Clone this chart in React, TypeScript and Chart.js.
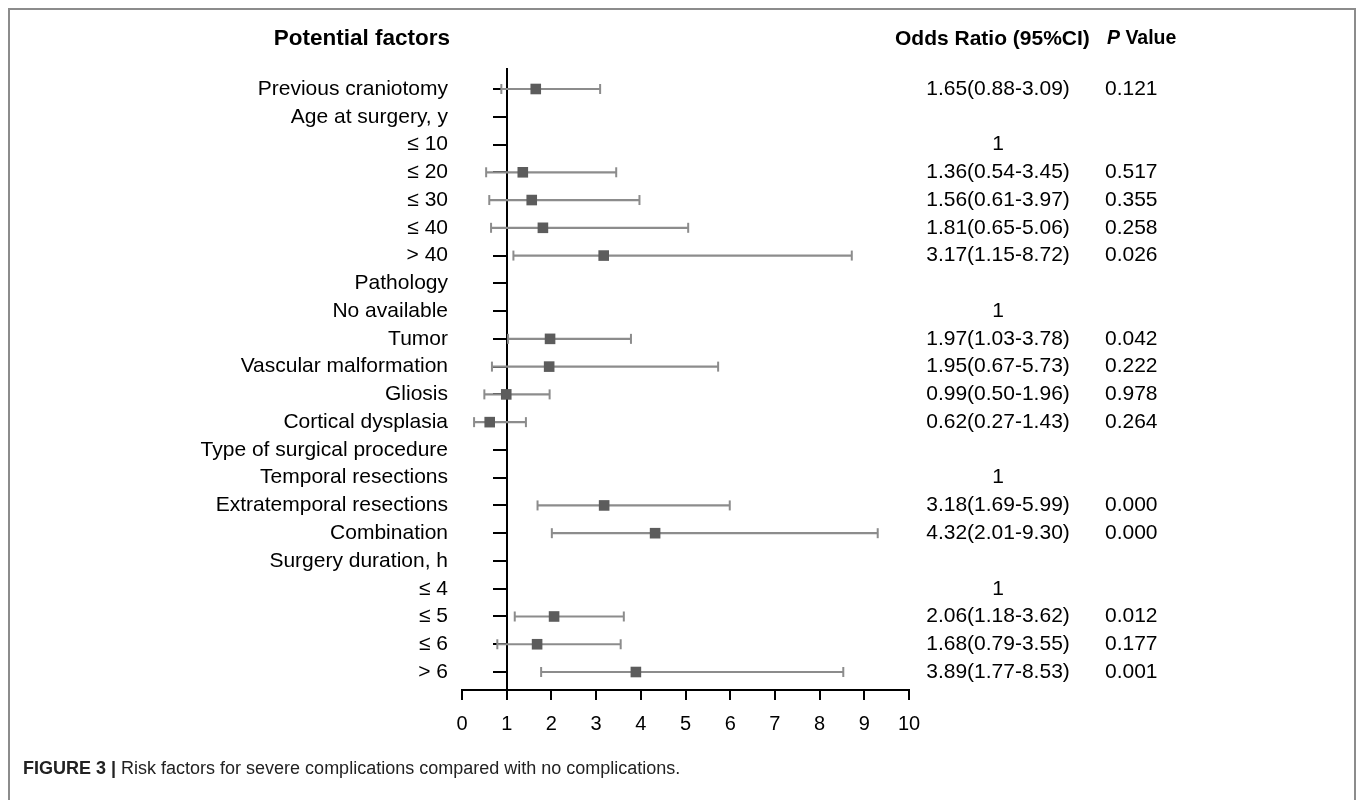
import React, { useEffect, useRef } from "react";
import { Chart, registerables } from "chart.js";

Chart.register(...registerables);

const FONT = '"Liberation Sans", Arial, Helvetica, sans-serif';

const rowLabels = [
  "Previous craniotomy",
  "Age at surgery, y",
  "≤ 10",
  "≤ 20",
  "≤ 30",
  "≤ 40",
  "> 40",
  "Pathology",
  "No available",
  "Tumor",
  "Vascular malformation",
  "Gliosis",
  "Cortical dysplasia",
  "Type of surgical procedure",
  "Temporal resections",
  "Extratemporal resections",
  "Combination",
  "Surgery duration, h",
  "≤ 4",
  "≤ 5",
  "≤ 6",
  "> 6",
];

const isReference = [
  false, false, true, false, false, false, false,
  false, true, false, false, false, false,
  false, true, false, false,
  false, true, false, false, false,
];

const oddsRatio = [
  1.65, null, null, 1.36, 1.56, 1.81, 3.17,
  null, null, 1.97, 1.95, 0.99, 0.62,
  null, null, 3.18, 4.32,
  null, null, 2.06, 1.68, 3.89,
];

const ciLower = [
  0.88, null, null, 0.54, 0.61, 0.65, 1.15,
  null, null, 1.03, 0.67, 0.5, 0.27,
  null, null, 1.69, 2.01,
  null, null, 1.18, 0.79, 1.77,
];

const ciUpper = [
  3.09, null, null, 3.45, 3.97, 5.06, 8.72,
  null, null, 3.78, 5.73, 1.96, 1.43,
  null, null, 5.99, 9.3,
  null, null, 3.62, 3.55, 8.53,
];

const pValues = [
  "0.121", "", "", "0.517", "0.355", "0.258", "0.026",
  "", "", "0.042", "0.222", "0.978", "0.264",
  "", "", "0.000", "0.000",
  "", "", "0.012", "0.177", "0.001",
];

const xMin = 0;
const xMax = 10;

function orLabel(i: number): string {
  if (isReference[i]) return "1";
  const o = oddsRatio[i];
  const lo = ciLower[i];
  const hi = ciUpper[i];
  if (o == null || lo == null || hi == null) return "";
  return `${o.toFixed(2)}(${lo.toFixed(2)}-${hi.toFixed(2)})`;
}

const textColumnsPlugin = {
  id: "textColumns",
  afterDraw(chart: any) {
    const ctx = chart.ctx;
    const y = chart.scales.y;
    ctx.save();
    ctx.fillStyle = "#000";
    ctx.textBaseline = "middle";
    // headers
    ctx.font = `bold 22.5px ${FONT}`;
    ctx.textAlign = "right";
    ctx.fillText("Potential factors", 450, 39);
    ctx.textAlign = "left";
    ctx.font = `bold 21px ${FONT}`;
    ctx.fillText("Odds Ratio (95%CI)", 895, 39);
    ctx.font = `italic bold 19.5px ${FONT}`;
    ctx.fillText("P", 1107, 39);
    const pw = ctx.measureText("P ").width;
    ctx.font = `bold 19.5px ${FONT}`;
    ctx.fillText("Value", 1107 + pw, 39);
    // rows
    ctx.font = `21px ${FONT}`;
    rowLabels.forEach((label, i) => {
      const py = y.getPixelForValue(i);
      ctx.textAlign = "right";
      ctx.fillText(label, 448, py);
      ctx.textAlign = "center";
      ctx.fillText(orLabel(i), 998, py);
      ctx.textAlign = "left";
      ctx.fillText(pValues[i], 1105, py);
    });
    ctx.restore();
  },
};

export default function App() {
  const canvasRef = useRef<HTMLCanvasElement | null>(null);

  useEffect(() => {
    const canvas = canvasRef.current;
    if (!canvas) return;

    const ciDatasets = rowLabels
      .map((_, i) => i)
      .filter((i) => ciLower[i] != null && ciUpper[i] != null)
      .map((i) => ({
        type: "line" as const,
        data: [
          { x: ciLower[i] as number, y: i },
          { x: ciUpper[i] as number, y: i },
        ],
        borderColor: "#8c8c8c",
        borderWidth: 2.2,
        pointStyle: "line" as const,
        rotation: 90,
        pointRadius: 5,
        pointBorderWidth: 2,
        pointBorderColor: "#8c8c8c",
        pointBackgroundColor: "#8c8c8c",
        showLine: true,
        fill: false,
      }));

    const pointData = rowLabels
      .map((_, i) => i)
      .filter((i) => oddsRatio[i] != null)
      .map((i) => ({ x: oddsRatio[i] as number, y: i }));

    const chart = new Chart(canvas, {
      type: "scatter",
      data: {
        datasets: [
          {
            type: "scatter",
            data: pointData,
            pointStyle: "rect",
            pointRadius: 7.5,
            pointBackgroundColor: "#5c5c5c",
            pointBorderColor: "#5c5c5c",
            pointBorderWidth: 0,
          } as any,
          ...ciDatasets,
        ],
      },
      options: {
        responsive: false,
        animation: false,
        devicePixelRatio: 1,
        layout: { padding: { left: 462, right: 448, top: 69, bottom: 60 } },
        plugins: {
          legend: { display: false },
          tooltip: { enabled: false },
          title: { display: false },
        },
        scales: {
          x: {
            type: "linear",
            position: "bottom",
            min: xMin,
            max: xMax,
            afterFit(axis: any) {
              axis.height = 50;
            },
            ticks: {
              stepSize: 1,
              color: "#000",
              font: { size: 20, family: FONT },
              padding: 12,
            },
            grid: {
              display: true,
              drawOnChartArea: false,
              drawTicks: true,
              tickLength: 10,
              color: "#000",
              lineWidth: 2,
            },
            border: { display: true, color: "#000", width: 2 },
          },
          y: {
            type: "linear",
            position: { x: 1 } as any,
            reverse: true,
            min: -0.72,
            max: 21.648,
            afterBuildTicks(axis: any) {
              axis.ticks = rowLabels.map((_, i) => ({ value: i }));
            },
            ticks: {
              display: false,
              autoSkip: false,
            },
            grid: {
              display: true,
              drawOnChartArea: false,
              drawTicks: true,
              tickLength: 13,
              color: "#000",
              lineWidth: 2,
            },
            border: { display: true, color: "#000", width: 2 },
          },
        },
      } as any,
      plugins: [textColumnsPlugin],
    });

    return () => chart.destroy();
  }, []);

  return (
    <div>
      <div
        style={{
          position: "fixed",
          left: 8,
          top: 8,
          width: 1348,
          height: 900,
          border: "2px solid #8c8c8c",
          boxSizing: "border-box",
        }}
      />
      <canvas
        ref={canvasRef}
        width={1357}
        height={800}
        style={{ position: "fixed", left: 0, top: 0, width: 1357, height: 800 }}
      />
      <div
        style={{
          position: "fixed",
          left: 23,
          top: 758,
          fontFamily: FONT,
          fontSize: 18,
          color: "#222",
          whiteSpace: "nowrap",
        }}
      >
        <b>FIGURE 3 |</b> Risk factors for severe complications compared with no complications.
      </div>
    </div>
  );
}
